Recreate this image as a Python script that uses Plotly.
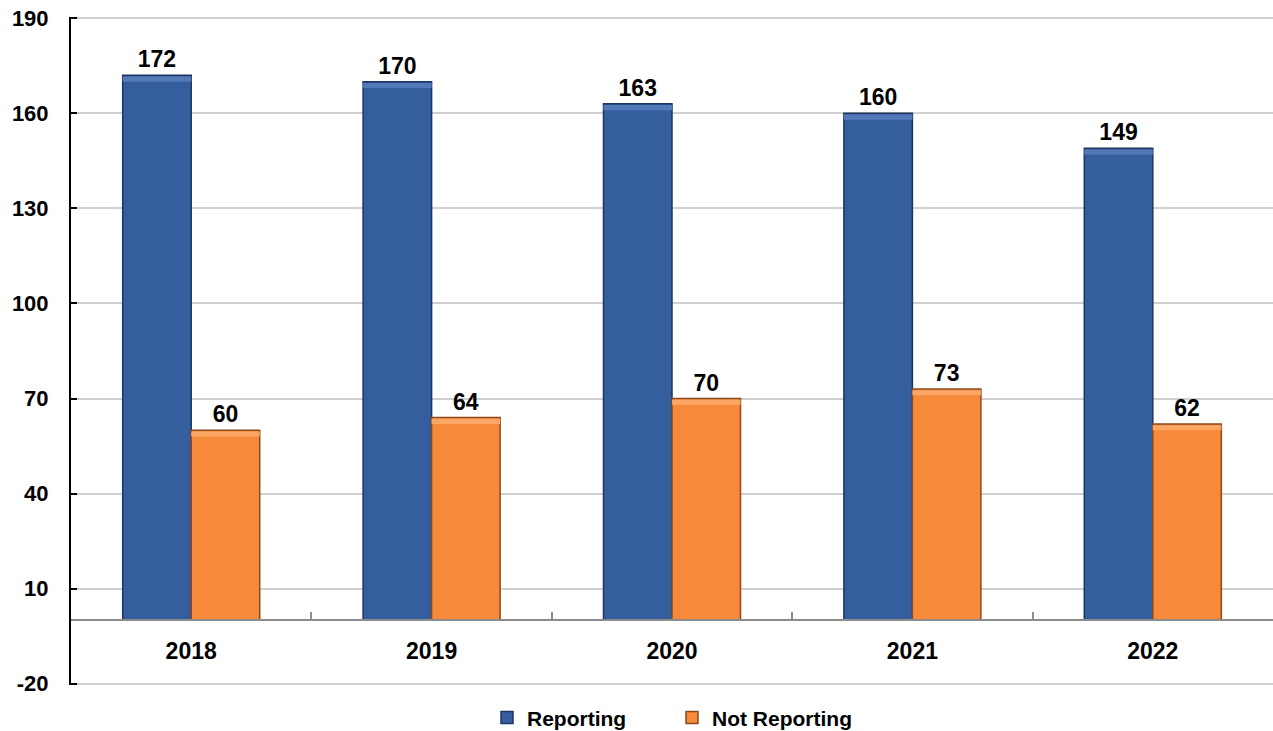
import plotly.graph_objects as go

years = ["2018", "2019", "2020", "2021", "2022"]
reporting = [172, 170, 163, 160, 149]
not_reporting = [60, 64, 70, 73, 62]

y_ticks = [-20, 10, 40, 70, 100, 130, 160, 190]
y_tick_text = ["-20", "10", "40", "70", "100", "130", "160", "190"]
y_min, y_max = -20, 190
PAD = 0.4  # small padding so the end gridlines stay inside the plot area

FONT = "Arial, 'Liberation Sans', sans-serif"
BEVEL = 1.6  # height of the lighter cap band, in axis units

series = [
    ("Reporting", reporting, "#355E9F", "#1E355F", "#5479B8", "a"),
    ("Not Reporting", not_reporting, "#F7893A", "#8A4A1E", "#FBA665", "b"),
]

fig = go.Figure()
for name, vals, color, edge, light, grp in series:
    fig.add_trace(go.Bar(
        name=name, x=years, y=vals, offsetgroup=grp,
        marker=dict(color=color, line=dict(color=edge, width=1.5)),
        text=vals, textposition="outside", cliponaxis=False,
        textfont=dict(family=FONT, size=23, color="black", weight="bold"),
    ))
for name, vals, color, edge, light, grp in series:
    # lighter cap band along the top of each bar
    fig.add_trace(go.Bar(
        x=years, y=[BEVEL] * len(vals), base=[v - BEVEL - 0.4 for v in vals],
        offsetgroup=grp, showlegend=False, hoverinfo="skip",
        marker=dict(color=light, line=dict(width=0)),
    ))

# gridline at the lower end of the value range
fig.add_shape(type="line", xref="paper", yref="y", x0=0, x1=1, y0=y_min, y1=y_min,
              line=dict(color="#D0D0D0", width=1.5), layer="below")

# category axis sits on the zero line of the value axis
lo, hi = y_min - PAD, y_max + PAD
zero_pos = (0 - lo) / (hi - lo)

fig.update_layout(
    width=1273, height=731,
    margin=dict(l=71, r=0, t=17, b=46, autoexpand=False),
    paper_bgcolor="white", plot_bgcolor="white",
    barmode="group", bargap=0.43, bargroupgap=0.0,
    font=dict(family=FONT, size=22, color="black"),
    xaxis=dict(
        type="category", anchor="free", position=zero_pos,
        showline=True, linecolor="#8C8C8C", linewidth=2,
        ticks="inside", tickson="boundaries", ticklen=7, tickwidth=2,
        tickcolor="#8C8C8C", showgrid=False,
        tickfont=dict(family=FONT, size=23, color="black", weight="bold"),
        ticklabelstandoff=10,
    ),
    yaxis=dict(
        range=[lo, hi], tickvals=y_ticks, ticktext=y_tick_text,
        showline=True, linecolor="black", linewidth=2,
        ticks="inside", ticklen=6, tickwidth=2, tickcolor="black",
        showgrid=True, gridcolor="#D0D0D0", gridwidth=1.5,
        zeroline=False,
        tickfont=dict(family=FONT, size=22, color="black", weight="bold"),
        ticklabelstandoff=16,
    ),
    legend=dict(
        orientation="h", x=0.5, xanchor="center",
        yref="container", y=0.018, yanchor="middle",
        font=dict(family=FONT, size=21, color="black", weight="bold"),
        itemwidth=30, entrywidth=140, traceorder="normal",
    ),
)

fig.write_html("out.html")
